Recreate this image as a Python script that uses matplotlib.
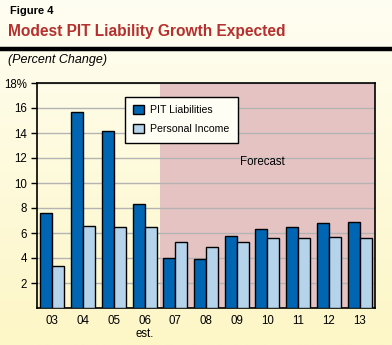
import numpy as np
import matplotlib
matplotlib.use("Agg")
import matplotlib.pyplot as plt
from matplotlib.colors import LinearSegmentedColormap

plt.rcParams["font.family"] = ["Liberation Sans", "DejaVu Sans"]

# Data
years = ["03", "04", "05", "06\nest.", "07", "08", "09", "10", "11", "12", "13"]
pit_liabilities = [7.6, 15.7, 14.2, 8.3, 4.0, 3.9, 5.8, 6.3, 6.5, 6.8, 6.9]
personal_income = [3.4, 6.6, 6.5, 6.45, 5.3, 4.9, 5.3, 5.6, 5.6, 5.7, 5.6]
yticks = [2, 4, 6, 8, 10, 12, 14, 16, 18]
ytick_labels = ["2", "4", "6", "8", "10", "12", "14", "16", "18%"]
forecast_start = 3.5

dark_blue = "#0066b3"
light_blue = "#b5d4ec"
pink = "#e6c3c3"
title_red = "#b5302e"

fig = plt.figure(figsize=(3.92, 3.45), dpi=100)

# cream gradient background
bg = fig.add_axes([0, 0, 1, 1], zorder=-10)
cmap = LinearSegmentedColormap.from_list("cream", ["#fffef2", "#fdf6c6"])
bg.imshow(np.linspace(0, 1, 256).reshape(-1, 1), aspect="auto", cmap=cmap,
          extent=[0, 1, 0, 1], origin="upper")
bg.axis("off")

# header
fig.text(0.025, 1 - 10.5 / 345, "Figure 4", fontsize=8, fontweight="bold", va="center")
fig.text(0.021, 1 - 31.5 / 345, "Modest PIT Liability Growth Expected", fontsize=11.2,
         fontweight="bold", color=title_red, va="center")
fig.add_artist(plt.Line2D([0, 1], [1 - 48.7 / 345] * 2, color="black", lw=3.2,
                          transform=fig.transFigure))
fig.text(0.02, 1 - 60 / 345, "(Percent Change)", fontsize=9, style="italic", va="center")

ax = fig.add_axes([37 / 392, 1 - 308 / 345, 338 / 392, 225 / 345])
ax.set_facecolor("none")

x = np.arange(len(years))
w = 0.39
ax.axvspan(forecast_start, len(years) - 0.5, color=pink, zorder=0, lw=0)
ax.bar(x - w / 2, pit_liabilities, w, color=dark_blue, edgecolor="black", lw=1,
       label="PIT Liabilities", zorder=3)
ax.bar(x + w / 2, personal_income, w, color=light_blue, edgecolor="black", lw=1,
       label="Personal Income", zorder=3)

ax.set_xlim(-0.5, len(years) - 0.5)
ax.set_ylim(0, 18)
ax.set_yticks(yticks)
ax.set_yticklabels(ytick_labels, fontsize=8.3)
ax.set_xticks(x)
ax.set_xticklabels(years, fontsize=8.3, linespacing=1.1)
ax.tick_params(axis="x", length=0, pad=5)
ax.tick_params(axis="y", length=4, width=1, pad=3)
ax.grid(axis="y", color="#b4b4b4", lw=1, zorder=1)
for s in ax.spines.values():
    s.set_linewidth(1.2)

ax.text(6.85, 11.7, "Forecast", fontsize=8.3, ha="center", va="center")

leg = ax.legend(loc="upper left", bbox_to_anchor=(0.26, 0.94), fontsize=7.6,
                fancybox=False, edgecolor="black", framealpha=1,
                facecolor="#fffef4", handlelength=1.0, handleheight=1.0,
                handletextpad=0.6, borderpad=0.8, labelspacing=0.8,
                borderaxespad=0)
leg.get_frame().set_linewidth(1)

fig.savefig("out.png", dpi=100)
